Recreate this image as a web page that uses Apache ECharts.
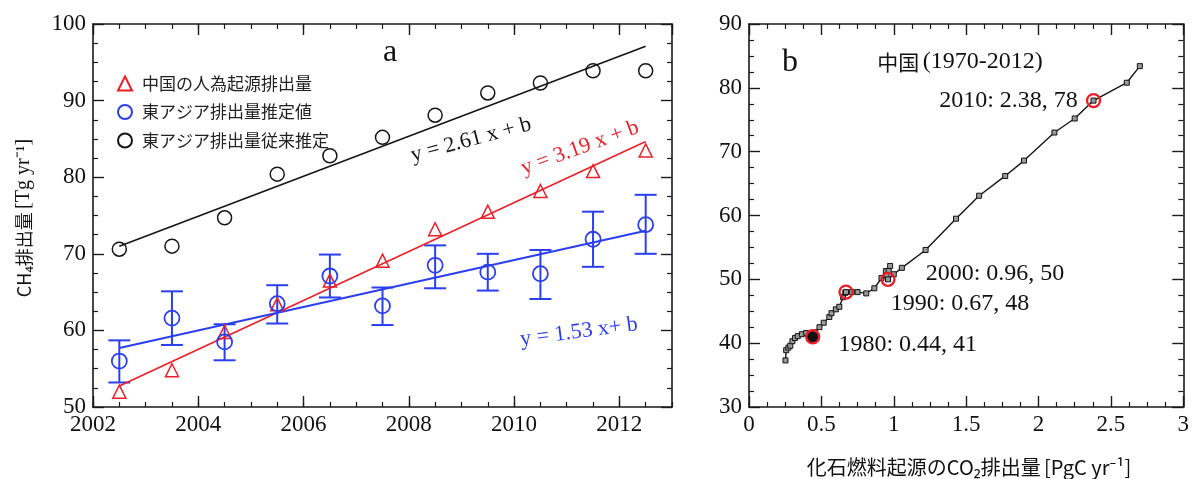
<!DOCTYPE html>
<html>
<head>
<meta charset="utf-8">
<script src="https://cdn.jsdelivr.net/npm/echarts@6/dist/echarts.min.js"></script>
<style>
  html, body { margin: 0; padding: 0; background: #fff; }
  #chart { width: 1192px; height: 479px; }
</style>
</head>
<body>
<div id="chart"></div>
<script>
// ---- Panel a: CH4 emissions 2002.5-2012.5 ----
const years = [2002.5, 2003.5, 2004.5, 2005.5, 2006.5, 2007.5, 2008.5, 2009.5, 2010.5, 2011.5, 2012.5];
const chinaAnthro = [52.0, 54.8, 59.8, 63.4, 66.5, 69.1, 73.2, 75.5, 78.2, 80.8, 83.5];
const eastAsiaEst = [56.0, 61.6, 58.5, 63.5, 67.1, 63.2, 68.5, 67.6, 67.4, 71.9, 73.8];
const eastAsiaEstLow = [53.2, 58.1, 56.1, 60.9, 64.3, 60.7, 65.5, 65.2, 64.1, 68.3, 70.0];
const eastAsiaEstHigh = [58.7, 65.1, 60.8, 65.9, 69.9, 65.6, 71.1, 70.0, 70.5, 75.5, 77.7];
const eastAsiaPrior = [70.6, 71.0, 74.7, 80.4, 82.8, 85.2, 88.1, 91.0, 92.3, 93.9, 93.9];

// linear trends: slope per year and value at the first year
const trendSlopes = { prior: 2.61, china: 3.19, est: 1.53 };
const trendStart = { prior: 71.0, china: 52.75, est: 57.7 };

const legendNames = ['中国の人為起源排出量', '東アジア排出量推定値', '東アジア排出量従来推定'];
const panelATicksX = [2002, 2013, 2];
const panelATicksY = [50, 100, 10];

// ---- Panel b: China 1970-2012, fossil CO2 vs CH4 ----
const yearsB = [1970, 1971, 1972, 1973, 1974, 1975, 1976, 1977, 1978, 1979,
  1980, 1981, 1982, 1983, 1984, 1985, 1986, 1987, 1988, 1989,
  1990, 1991, 1992, 1993, 1994, 1995, 1996, 1997, 1998, 1999,
  2000, 2001, 2002, 2003, 2004, 2005, 2006, 2007, 2008, 2009,
  2010, 2011, 2012];
const co2Fossil = [0.252, 0.257, 0.272, 0.285, 0.300, 0.318, 0.337, 0.365, 0.395, 0.420,
  0.44, 0.455, 0.487, 0.516, 0.555, 0.570, 0.600, 0.624, 0.650, 0.665,
  0.67, 0.710, 0.750, 0.810, 0.866, 0.915, 0.946, 0.975, 0.965, 0.950,
  0.96, 1.000, 1.056, 1.220, 1.430, 1.590, 1.770, 1.900, 2.110, 2.250,
  2.38, 2.610, 2.700];
const ch4China = [37.3, 38.9, 39.3, 39.6, 40.3, 40.8, 41.1, 41.4, 41.6, 41.4,
  41, 41.7, 42.5, 43.2, 44.1, 44.7, 45.3, 45.7, 47.2, 47.9,
  48, 48.0, 48.0, 47.8, 48.6, 50.2, 51.3, 52.1, 51.3, 50.6,
  50, 50.8, 51.8, 54.6, 59.5, 63.1, 66.2, 68.6, 73.0, 75.2,
  78, 80.8, 83.4];
const highlightYears = [1980, 1990, 2000, 2010];
const panelBTicksX = [0, 3, 0.5];
const panelBTicksY = [30, 90, 10];

// ---- styling ----
const SERIF = '"Liberation Serif", "Times New Roman", serif';
const SANS = '"Noto Sans CJK JP", "Noto Sans", sans-serif';
const RED = '#ea1f28';
const BLUE = '#2b3ff0';
const BLACK = '#151515';
const AXIS = '#1a1a1a';
const TEXT = '#111';

const gridA = { left: 93, top: 24, width: 579, height: 383 };
const gridB = { left: 749, top: 24, width: 436, height: 383 };

function frameAxis(extra) {
  return Object.assign({
    type: 'value',
    axisLine: { show: true, onZero: false, lineStyle: { color: AXIS, width: 1.6 } },
    axisTick: { show: true, inside: true, length: 11, lineStyle: { color: AXIS, width: 1.4 } },
    minorTick: { show: false },
    splitLine: { show: false },
    minorSplitLine: { show: false },
    axisLabel: { show: false, fontFamily: SERIF, fontSize: 23, color: TEXT, showMaxLabel: true,
      formatter: v => String(v) }
  }, extra);
}
function withMinor(ax) {
  ax.minorTick = { show: true, splitNumber: 4, length: 5, lineStyle: { color: AXIS, width: 1.2 } };
  return ax;
}
function labelled(ax, margin) {
  ax.axisLabel = Object.assign({}, ax.axisLabel, { show: true, margin: margin });
  return ax;
}

const xAxes = [
  // panel a, bottom (labelled) and top frame
  labelled(frameAxis({ gridIndex: 0, position: 'bottom', min: panelATicksX[0], max: panelATicksX[1], interval: panelATicksX[2] }), 6),
  frameAxis({ gridIndex: 0, position: 'top', min: panelATicksX[0], max: panelATicksX[1], interval: panelATicksX[2] }),
  // panel b
  labelled(withMinor(frameAxis({ gridIndex: 1, position: 'bottom', min: panelBTicksX[0], max: panelBTicksX[1], interval: panelBTicksX[2] })), 6),
  withMinor(frameAxis({ gridIndex: 1, position: 'top', min: panelBTicksX[0], max: panelBTicksX[1], interval: panelBTicksX[2] })),
  // panel a half-year tick marks
  frameAxis({ gridIndex: 2, position: 'bottom', min: panelATicksX[0], max: panelATicksX[1], interval: 0.5,
    axisLine: { show: false }, axisTick: { show: true, inside: true, length: 5, lineStyle: { color: AXIS, width: 1.2 } } }),
  frameAxis({ gridIndex: 2, position: 'top', min: panelATicksX[0], max: panelATicksX[1], interval: 0.5,
    axisLine: { show: false }, axisTick: { show: true, inside: true, length: 5, lineStyle: { color: AXIS, width: 1.2 } } })
];
xAxes[0].axisLabel.showMaxLabel = false;

const yAxes = [
  labelled(withMinor(frameAxis({ gridIndex: 0, position: 'left', min: panelATicksY[0], max: panelATicksY[1], interval: panelATicksY[2] })), 7),
  withMinor(frameAxis({ gridIndex: 0, position: 'right', min: panelATicksY[0], max: panelATicksY[1], interval: panelATicksY[2] })),
  labelled(withMinor(frameAxis({ gridIndex: 1, position: 'left', min: panelBTicksY[0], max: panelBTicksY[1], interval: panelBTicksY[2] })), 7),
  withMinor(frameAxis({ gridIndex: 1, position: 'right', min: panelBTicksY[0], max: panelBTicksY[1], interval: panelBTicksY[2] })),
  { type: 'value', gridIndex: 2, show: false, min: 0, max: 1 }
];

function trendLine(key) {
  const x0 = years[0], x1 = years[years.length - 1];
  const y0 = trendStart[key];
  return [[x0, y0], [x1, y0 + trendSlopes[key] * (x1 - x0)]];
}
const pairs = (xs, ys) => xs.map((x, i) => [x, ys[i]]);

const openMark = (color, w) => ({ color: 'rgba(0,0,0,0)', borderColor: color, borderWidth: w, opacity: 1 });

// red circles with their "year: co2, ch4" annotations
const labelPlacement = {
  1980: { position: 'right', distance: 18, offset: [0, 8] },
  1990: { position: 'right', distance: 37, offset: [0, 12] },
  2000: { position: 'right', distance: 30, offset: [0, -6] },
  2010: { position: 'left', distance: 8, offset: [0, 0] }
};
const highlightData = highlightYears.map(yr => {
  const i = yearsB.indexOf(yr);
  const pl = labelPlacement[yr];
  return {
    value: [co2Fossil[i], ch4China[i], yr],
    itemStyle: yr === 1980 ? { color: '#111', opacity: 1 } : undefined,
    label: { show: true, position: pl.position, distance: pl.distance, offset: pl.offset,
      color: TEXT, opacity: 1, fontFamily: SERIF, fontSize: 24 }
  };
});

const option = {
  animation: false,
  backgroundColor: '#fff',
  grid: [
    Object.assign({}, gridA),
    Object.assign({}, gridB),
    Object.assign({}, gridA)
  ],
  xAxis: xAxes,
  yAxis: yAxes,
  legend: {
    orient: 'vertical',
    left: 117, top: 75,
    padding: 0,
    itemWidth: 14, itemHeight: 14, itemGap: 11.5,
    data: legendNames,
    textStyle: { fontFamily: SANS, fontSize: 17, color: '#222', padding: [0, 0, 0, 5] },
    selectedMode: false
  },
  series: [
    // panel a error bars
    {
      type: 'custom', xAxisIndex: 0, yAxisIndex: 0, z: 2,
      data: years.map((x, i) => [x, eastAsiaEstLow[i], eastAsiaEstHigh[i]]),
      encode: { x: 0, y: [1, 2] },
      renderItem(params, api) {
        const x = api.value(0);
        const lo = api.coord([x, api.value(1)]);
        const hi = api.coord([x, api.value(2)]);
        const w = 11;
        const st = { stroke: BLUE, lineWidth: 2, fill: null };
        return {
          type: 'group',
          children: [
            { type: 'line', shape: { x1: lo[0], y1: lo[1], x2: hi[0], y2: hi[1] }, style: st },
            { type: 'line', shape: { x1: lo[0] - w, y1: lo[1], x2: lo[0] + w, y2: lo[1] }, style: st },
            { type: 'line', shape: { x1: hi[0] - w, y1: hi[1], x2: hi[0] + w, y2: hi[1] }, style: st }
          ]
        };
      }
    },
    // trend lines
    { type: 'line', xAxisIndex: 0, yAxisIndex: 0, data: trendLine('prior'), showSymbol: false, z: 3,
      lineStyle: { color: BLACK, width: 1.6 } },
    { type: 'line', xAxisIndex: 0, yAxisIndex: 0, data: trendLine('china'), showSymbol: false, z: 3,
      lineStyle: { color: RED, width: 1.6 } },
    { type: 'line', xAxisIndex: 0, yAxisIndex: 0, data: trendLine('est'), showSymbol: false, z: 3,
      lineStyle: { color: BLUE, width: 2 } },
    // observations
    { name: legendNames[0], type: 'scatter', xAxisIndex: 0, yAxisIndex: 0, z: 4,
      data: pairs(years, chinaAnthro), symbol: 'triangle', symbolSize: 13,
      itemStyle: openMark(RED, 1.5) },
    { name: legendNames[1], type: 'scatter', xAxisIndex: 0, yAxisIndex: 0, z: 4,
      data: pairs(years, eastAsiaEst), symbol: 'circle', symbolSize: 15,
      itemStyle: openMark(BLUE, 1.8) },
    { name: legendNames[2], type: 'scatter', xAxisIndex: 0, yAxisIndex: 0, z: 4,
      data: pairs(years, eastAsiaPrior), symbol: 'circle', symbolSize: 14,
      itemStyle: openMark(BLACK, 1.5) },
    // panel b
    { type: 'line', xAxisIndex: 2, yAxisIndex: 2, z: 3,
      data: pairs(co2Fossil, ch4China),
      symbol: 'rect', symbolSize: 5, showAllSymbol: true,
      lineStyle: { color: BLACK, width: 1.4 },
      itemStyle: { color: '#9a9a9a', borderColor: '#111', borderWidth: 1, opacity: 1 } },
    { type: 'scatter', xAxisIndex: 2, yAxisIndex: 2, z: 4,
      data: highlightData, symbol: 'circle', symbolSize: 13,
      itemStyle: openMark(RED, 2.4),
      label: {
        fontFamily: SERIF, fontSize: 24, color: TEXT, opacity: 1,
        formatter: p => `${p.value[2]}: ${p.value[0].toFixed(2)}, ${Math.round(p.value[1])}`
      } }
  ],
  graphic: [
    { type: 'text', x: 390, y: 53, style: { text: 'a', font: `32px ${SERIF}`, fill: TEXT, align: 'center', verticalAlign: 'middle' } },
    { type: 'text', x: 790, y: 63, style: { text: 'b', font: `32px ${SERIF}`, fill: TEXT, align: 'center', verticalAlign: 'middle' } },
    { type: 'text', x: 960, y: 62, style: {
        text: '{c|中国} {s|(1970-2012)}', align: 'center', verticalAlign: 'middle',
        rich: { c: { fontFamily: SANS, fontSize: 21, fill: TEXT }, s: { fontFamily: SERIF, fontSize: 24, fill: TEXT } } } },
    { type: 'text', x: 471, y: 140, rotation: 15 * Math.PI / 180,
      style: { text: 'y = 2.61 x + b', font: `22px ${SERIF}`, fill: BLACK, align: 'center', verticalAlign: 'middle' } },
    { type: 'text', x: 580, y: 148, rotation: 20 * Math.PI / 180,
      style: { text: 'y = 3.19 x + b', font: `22px ${SERIF}`, fill: RED, align: 'center', verticalAlign: 'middle' } },
    { type: 'text', x: 579, y: 332, rotation: 7.5 * Math.PI / 180,
      style: { text: 'y = 1.53 x+ b', font: `22px ${SERIF}`, fill: BLUE, align: 'center', verticalAlign: 'middle' } },
    { type: 'text', x: 24, y: 218, rotation: Math.PI / 2,
      style: { text: '{c|CH₄排出量} {s|[Tg yr⁻¹]}', align: 'center', verticalAlign: 'middle',
        rich: { c: { fontFamily: SANS, fontSize: 18, fill: TEXT }, s: { fontFamily: SERIF, fontSize: 20, fill: TEXT } } } },
    { type: 'text', x: 969, y: 467,
      style: { text: '{c|化石燃料起源のCO₂排出量} {s|[PgC yr⁻¹]}', align: 'center', verticalAlign: 'middle',
        rich: { c: { fontFamily: SANS, fontSize: 20, fill: TEXT }, s: { fontFamily: SANS, fontSize: 20, fill: TEXT } } } }
  ]
};

const chart = echarts.init(document.getElementById('chart'), null, { renderer: 'canvas' });
chart.setOption(option);
</script>
</body>
</html>
